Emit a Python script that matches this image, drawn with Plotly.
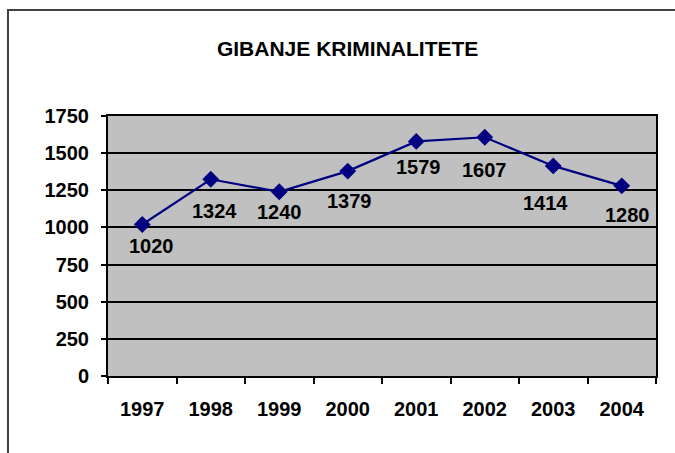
"""Gibanje kriminalitete - line chart"""
import plotly.graph_objects as go

# podatki
years = ["1997", "1998", "1999", "2000", "2001", "2002", "2003", "2004"]
crimes = [1020, 1324, 1240, 1379, 1579, 1607, 1414, 1280]
y_ticks = [0, 250, 500, 750, 1000, 1250, 1500, 1750]

# odmik oznak od tocke (px)
label_dy = [-22, -32, -20, -30, -26, -33, -37, -29]
label_dx = [9, 4, 0, 2, 2, 0, -8, 6]

FONT = "Liberation Sans, Arial, sans-serif"
NAVY = "#000080"
bold = {"family": FONT, "size": 20, "color": "black", "weight": "bold"}

fig = go.Figure()

fig.add_trace(
    go.Scatter(
        x=years,
        y=crimes,
        mode="lines+markers",
        line={"color": NAVY, "width": 2.2},
        marker={"symbol": "diamond", "size": 13, "color": NAVY},
        showlegend=False,
        hoverinfo="skip",
    )
)

# oznake vrednosti pod tockami (na kategorijski osi se x poda z indeksom)
for i, (val, dx, dy) in enumerate(zip(crimes, label_dx, label_dy)):
    fig.add_annotation(
        x=i, y=val, text=str(val), showarrow=False,
        xshift=dx, yshift=dy, font=bold,
    )

# okvir grafa (levo in zgoraj)
fig.add_shape(
    type="rect", xref="paper", yref="paper",
    x0=-0.1825, x1=1.2, y0=-0.5, y1=1.4077,
    line={"color": "#404040", "width": 2}, fillcolor="rgba(0,0,0,0)", layer="below",
)

fig.update_layout(
    width=675,
    height=453,
    margin={"l": 108, "r": 19, "t": 116, "b": 77},
    paper_bgcolor="white",
    plot_bgcolor="#C0C0C0",
    font={"family": FONT, "size": 20, "color": "black"},
    title={
        "text": "GIBANJE KRIMINALITETE",
        "x": 0.515, "xanchor": "center",
        "y": 0.892, "yanchor": "middle",
        "font": {"family": FONT, "size": 21, "color": "black", "weight": "bold"},
    },
    xaxis={
        "type": "category",
        "categoryorder": "array",
        "categoryarray": years,
        "range": [-0.5, len(years) - 0.5],
        "tickson": "boundaries",
        "ticks": "outside",
        "ticklen": 6,
        "tickwidth": 2,
        "tickcolor": "black",
        "showline": True,
        "linecolor": "black",
        "linewidth": 2,
        "mirror": True,
        "showgrid": False,
        "tickfont": bold,
        "tickangle": 0,
        "ticklabelstandoff": 14,
    },
    yaxis={
        "range": [0, 1750],
        "tickvals": y_ticks,
        "ticks": "outside",
        "ticklen": 5,
        "tickwidth": 2,
        "tickcolor": "black",
        "showline": True,
        "linecolor": "black",
        "linewidth": 2,
        "mirror": True,
        "showgrid": True,
        "gridcolor": "black",
        "gridwidth": 2,
        "zeroline": False,
        "tickfont": bold,
        "ticklabelstandoff": 8,
    },
)

# brez privzetega roba strani, da se graf zacne v kotu okna
fig.write_html(
    "out.html",
    config={"displayModeBar": False},
    post_script="document.body.style.margin = '0';",
)
